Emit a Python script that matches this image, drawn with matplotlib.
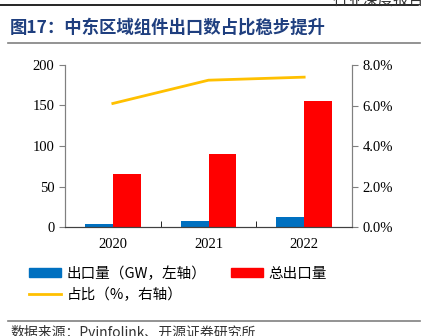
import matplotlib
matplotlib.use('Agg')
from matplotlib import pyplot as plt
from matplotlib.lines import Line2D
from matplotlib.patches import Patch
import numpy as np

plt.rcParams['font.family'] = ['Liberation Serif', 'Noto Sans CJK SC']

years = ['2020', '2021', '2022']
export_me = [4, 7, 12]          # 出口量 (GW)
export_total = [66, 90, 156]    # 总出口量
share = [6.1, 7.25, 7.4]        # 占比 (%)

W, H = 424, 336
fig = plt.figure(figsize=(W / 100, H / 100), dpi=100)
ax = fig.add_axes([65 / W, 1 - 227 / H, 287 / W, 162 / H])
ax2 = ax.twinx()

x = np.arange(len(years))
bw = 0.29
ax.bar(x - bw / 2, export_me, bw, color='#0070C0', zorder=2)
ax.bar(x + bw / 2, export_total, bw, color='#FF0000', zorder=2)
ax2.plot(x, share, color='#FFC000', linewidth=2)

ax.set_xlim(-0.5, 2.5)
ax.set_ylim(0, 200)
ax.set_yticks([0, 50, 100, 150, 200])
ax2.set_ylim(0, 8)
ax2.set_yticks([0, 2, 4, 6, 8])
ax2.set_yticklabels(['%.1f%%' % v for v in [0, 2, 4, 6, 8]])

ax.set_xticks(x)
ax.set_xticklabels(years)
ax.set_xticks([0.5, 1.5], minor=True)
ax.tick_params(axis='x', which='major', length=0, labelsize=10.5, pad=8)
ax.tick_params(axis='x', which='minor', direction='in', length=4)
ax.tick_params(axis='y', labelsize=10.5, length=4, color='#808080')
ax2.tick_params(axis='y', labelsize=10.5, length=4, color='#808080')

for a in (ax, ax2):
    a.spines['top'].set_visible(False)
    a.spines['left'].set_color('#808080')
    a.spines['right'].set_color('#808080')
    a.spines['bottom'].set_color('#404040')

# header lines and texts
fig.add_artist(Line2D([0, 418 / W], [1 - 4.5 / H] * 2, color='black', lw=1.2))
fig.text(1.0, 1 - 0 / H, '行业深度报告', ha='right', va='center', fontsize=11,
         color='#333333', family=['Noto Sans CJK SC'])
fig.text(10 / W, 1 - 28 / H, '图17：中东区域组件出口数占比稳步提升', ha='left', va='center',
         fontsize=12.5, fontweight='bold', color='#1F3F7F', family=['Noto Sans CJK SC'])
fig.add_artist(Line2D([8 / W, 420 / W], [1 - 43 / H] * 2, color='#808080', lw=1.2))

handles = [Patch(color='#0070C0'), Line2D([], [], color='#FFC000', lw=2), Patch(color='#FF0000')]
labels = ['出口量（GW，左轴）', '占比（%，右轴）', '总出口量']
fig.legend(handles, labels, ncol=2, loc='upper left', bbox_to_anchor=(16 / W, 1 - 253 / H),
           frameon=False, handlelength=2.2, handleheight=0.55,
           columnspacing=1.7, labelspacing=0.45, handletextpad=0.35,
           prop={'family': ['Noto Sans CJK SC'], 'size': 10.5})

fig.add_artist(Line2D([8 / W, 420 / W], [1 - 320.5 / H] * 2, color='#808080', lw=1.2))
fig.text(10 / W, 1 - 333 / H, '数据来源：Pvinfolink、开源证券研究所', ha='left', va='center',
         fontsize=10, color='#333333', family=['Noto Sans CJK SC', 'Liberation Serif'])

fig.savefig('out.png', dpi=100)
